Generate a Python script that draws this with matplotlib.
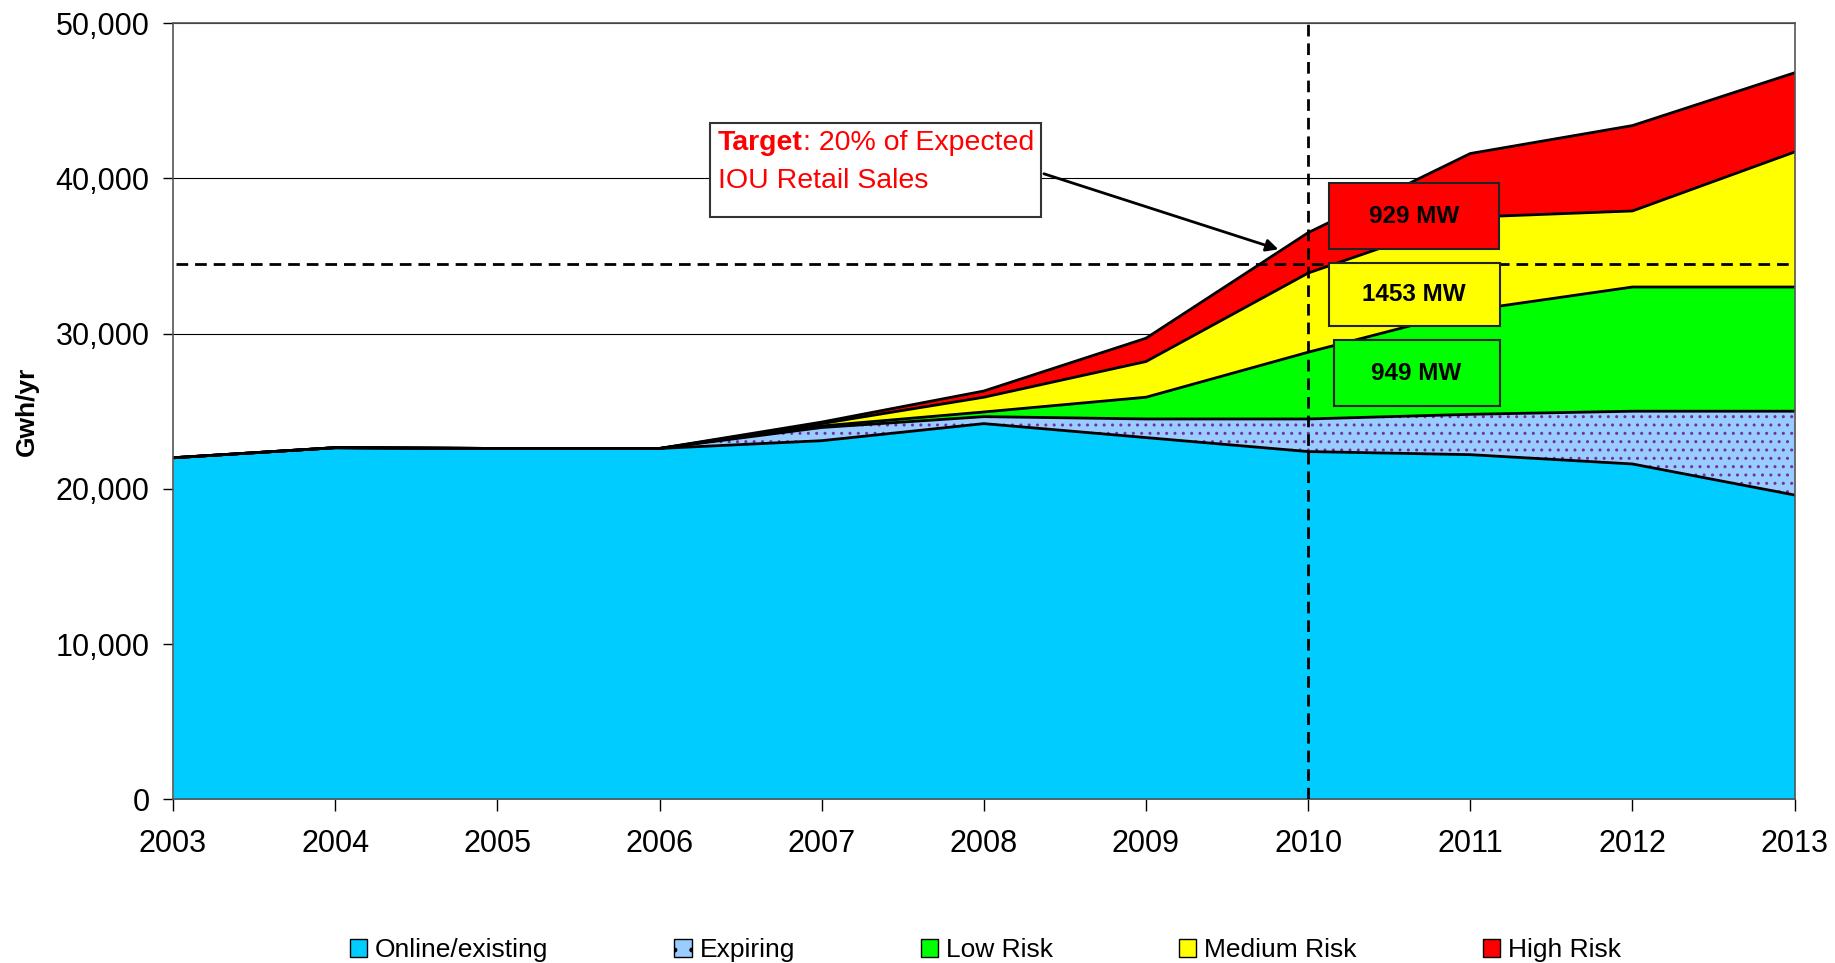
import numpy as np
import matplotlib.pyplot as plt
from matplotlib.patches import Patch, Rectangle

plt.rcParams['font.family'] = ['Liberation Sans', 'DejaVu Sans']

years = np.arange(2003, 2014)
# cumulative tops of each layer (GWh/yr)
online = [22000, 22650, 22600, 22600, 23100, 24200, 23300, 22400, 22200, 21600, 19600]
expiring_top = [22000, 22650, 22600, 22600, 23950, 24650, 24500, 24500, 24800, 25000, 25000]
low_top = [22000, 22650, 22600, 22600, 24050, 24950, 25900, 28800, 31500, 33000, 33000]
medium_top = [22000, 22650, 22600, 22600, 24200, 25900, 28200, 33900, 37500, 37900, 41700]
high_top = [22000, 22650, 22600, 22600, 24300, 26300, 29700, 36500, 41600, 43400, 46800]
target = 34500
target_year = 2010
box_labels = ['929 MW', '1453 MW', '949 MW']
legend_labels = ['Online/existing', 'Expiring', 'Low Risk', 'Medium Risk', 'High Risk']

c_online = '#00CCFF'
c_exp = '#99CCFF'
c_low = '#00FF00'
c_med = '#FFFF00'
c_high = '#FF0000'

fig = plt.figure(figsize=(18.35, 9.63), dpi=100)
ax = fig.add_axes([0.0943, 0.170, 0.8837, 0.806])

ax.fill_between(years, 0, online, color=c_online, lw=0, zorder=2)
ax.fill_between(years, online, expiring_top, facecolor=c_exp, edgecolor='#7030A0',
                hatch='..', lw=0, zorder=2)
ax.fill_between(years, expiring_top, low_top, color=c_low, lw=0, zorder=2)
ax.fill_between(years, low_top, medium_top, color=c_med, lw=0, zorder=2)
ax.fill_between(years, medium_top, high_top, color=c_high, lw=0, zorder=2)
for top in [online, expiring_top, low_top, medium_top, high_top]:
    ax.plot(years, top, color='black', lw=2, zorder=3)

ax.set_xlim(2003, 2013)
ax.set_ylim(0, 50000)
ax.set_yticks(np.arange(0, 50001, 10000))
ax.set_yticklabels(['{:,}'.format(v) for v in range(0, 50001, 10000)])
ax.set_xticks(years)
ax.set_xticklabels([str(y) for y in years])
ax.tick_params(axis='y', labelsize=22, length=7, width=1, pad=10)
ax.tick_params(axis='x', labelsize=22, length=8.5, width=1, pad=13)
ax.yaxis.grid(True, color='black', lw=0.8, zorder=1)
ax.set_axisbelow(True)
for s in ax.spines.values():
    s.set_color('#555555')
    s.set_linewidth(1.2)
    s.set_zorder(4)

ax.set_ylabel('Gwh/yr', fontsize=19, fontweight='bold')
ax.yaxis.set_label_coords(-0.083, 0.5)

# target lines
ax.plot([2003.02, 2013], [target, target], color='black', lw=2, ls=(0, (4.2, 2.5)), zorder=5)
ax.plot([target_year, target_year], [0, 50000], color='black', lw=2, ls=(0, (4.2, 2.5)), zorder=5)

# target annotation box
ax.add_patch(Rectangle((2006.31, 37480), 2.044, 6110, facecolor='white',
                       edgecolor='#333333', lw=1.5, zorder=6))
t1 = ax.text(2006.36, 42300, 'Target', color='red', fontsize=20.5, fontweight='bold',
             va='center', ha='left', zorder=7)
ax.annotate(': 20% of Expected', xy=(1, 0), xycoords=t1, va='bottom', ha='left',
            color='red', fontsize=20.5, zorder=7)
ax.text(2006.36, 39850, 'IOU Retail Sales', color='red', fontsize=20.5,
        va='center', ha='left', zorder=7)
ax.annotate('', xy=(2009.833, 35370), xytext=(2008.354, 40350),
            arrowprops=dict(arrowstyle='-|>', color='black', lw=2, mutation_scale=18),
            zorder=7)

# MW boxes
boxes = [(2010.128, 35440, 1.047, 4230, c_high),
         (2010.128, 30470, 1.052, 4070, c_med),
         (2010.157, 25340, 1.023, 4220, c_low)]
for (x0, y0, w, h, c), lab in zip(boxes, box_labels):
    ax.add_patch(Rectangle((x0, y0), w, h, facecolor=c, edgecolor='#222222', lw=1.5, zorder=6))
    ax.text(x0 + w / 2, y0 + h / 2, lab, fontsize=17.5, fontweight='bold',
            ha='center', va='center', zorder=7)

handles = [Patch(facecolor=c_online, edgecolor='black'),
           Patch(facecolor=c_exp, edgecolor='black', hatch='.'),
           Patch(facecolor=c_low, edgecolor='black'),
           Patch(facecolor=c_med, edgecolor='black'),
           Patch(facecolor=c_high, edgecolor='black')]
fig.legend(handles, legend_labels, loc='center', bbox_to_anchor=(0.537, 0.013), ncol=5,
           frameon=False, fontsize=19, handlelength=0.65, handleheight=0.65,
           handletextpad=0.3, columnspacing=4.78)

fig.savefig('out.png', dpi=100)
